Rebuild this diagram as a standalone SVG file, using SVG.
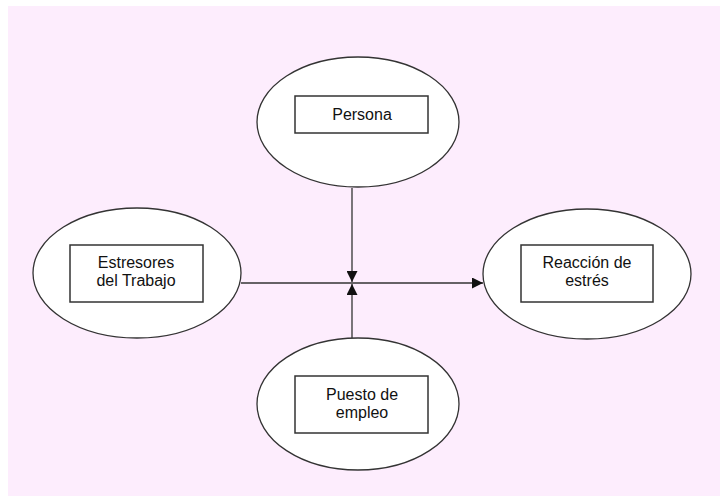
<svg xmlns="http://www.w3.org/2000/svg" width="720" height="496" viewBox="0 0 720 496">
<style>
.el{fill:#ffffff;stroke:#333333;stroke-width:1.3}
.bx{fill:#ffffff;stroke:#333333;stroke-width:1.5}
.tx{font-family:"Liberation Sans",Arial,sans-serif;font-size:16px;fill:#111111;text-anchor:middle}
.ln{stroke:#333333;stroke-width:1.3;fill:none}
</style>
<defs>
<marker id="ah" viewBox="0 0 10 10" refX="10" refY="5" markerWidth="11" markerHeight="11" markerUnits="userSpaceOnUse" orient="auto">
<path d="M0,0 L10,5 L0,10 Z" fill="#111111"/>
</marker>
</defs>
<rect x="0" y="0" width="720" height="496" fill="#ffffff"/>
<rect x="8" y="6" width="712" height="490" fill="#fdedfd"/>
<g id="connectors">
<line class="ln" x1="352" y1="188" x2="352" y2="282" marker-end="url(#ah)"/>
<line class="ln" x1="352" y1="338" x2="352" y2="284" marker-end="url(#ah)"/>
<line class="ln" x1="241" y1="283" x2="483" y2="283" marker-end="url(#ah)"/>
</g>
<g id="persona">
<ellipse class="el" cx="358" cy="122" rx="101" ry="65"/>
<rect class="bx" x="295" y="96" width="133" height="37"/>
<text class="tx" x="362" y="120">Persona</text>
</g>
<g id="estresores">
<ellipse class="el" cx="137" cy="273" rx="104" ry="65"/>
<rect class="bx" x="70" y="245" width="133" height="57"/>
<text class="tx" x="136" y="268">Estresores</text>
<text class="tx" x="136" y="286">del Trabajo</text>
</g>
<g id="reaccion">
<ellipse class="el" cx="587" cy="274" rx="104" ry="65"/>
<rect class="bx" x="521" y="245" width="132" height="57"/>
<text class="tx" x="587" y="268">Reacción de</text>
<text class="tx" x="587" y="286">estrés</text>
</g>
<g id="puesto">
<ellipse class="el" cx="358" cy="404" rx="101" ry="66"/>
<rect class="bx" x="295" y="376" width="133" height="57"/>
<text class="tx" x="362" y="400">Puesto de</text>
<text class="tx" x="362" y="418">empleo</text>
</g>
</svg>
